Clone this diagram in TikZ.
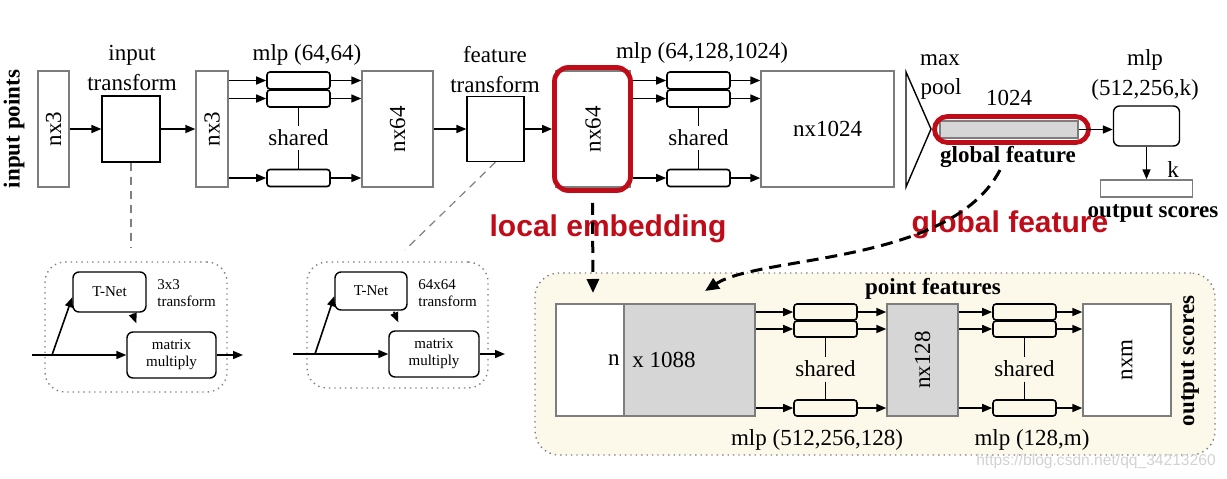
\documentclass[tikz,border=0pt]{standalone}
\usepackage{graphicx}
\usepackage{fontspec}
\setmainfont{Liberation Serif}
\newfontfamily\redfont{Liberation Sans}
\usetikzlibrary{arrows.meta,calc}
\definecolor{embred}{RGB}{192,12,24}
\definecolor{panelbg}{RGB}{252,248,234}
\definecolor{boxgray}{RGB}{214,214,214}
\definecolor{edgegray}{RGB}{125,125,125}

\begin{document}
\begin{tikzpicture}[x=0.5pt, y=-0.5pt, >={Triangle[length=5pt,width=4pt]},
    layer/.style ={draw=edgegray, line width=0.7pt, inner sep=0pt, font=\fontsize{11.5}{15}\selectfont},
    tbox/.style ={draw, line width=0.6pt, inner sep=0pt},
    unit/.style ={draw, rounded corners=1.5pt, line width=0.8pt, inner sep=0pt, minimum width=31.5pt, minimum height=8.5pt},
    small/.style ={draw, rounded corners=3pt, line width=0.7pt, inner sep=0pt, align=center, font=\fontsize{7.5}{8.5}\selectfont},
    lbl/.style ={inner sep=0pt, align=center, font=\fontsize{11.5}{15}\selectfont},
    blbl/.style ={inner sep=0pt, font=\fontsize{11.5}{15}\selectfont\bfseries},
    note/.style ={inner sep=0pt, align=left, font=\fontsize{7.5}{8.5}\selectfont},
    redlbl/.style ={inner sep=0pt, text=embred, font=\redfont\bfseries\fontsize{15}{18}\selectfont},
    ringbox/.style ={draw=embred, line width=2.4pt},
    group/.style ={draw=gray, dotted, line width=0.7pt, rounded corners=10pt},
    flow/.style ={line width=0.8pt, ->},
    link/.style ={line width=0.8pt},
    hint/.style ={draw=gray, line width=0.6pt, dash pattern=on 4pt off 3pt},
    jump/.style ={line width=1.5pt, dash pattern=on 6pt off 3.5pt, -{Triangle[length=7pt,width=6pt]}}]
   \useasboundingbox (0,0) rectangle (1227,478);

   % top row
   \node[blbl, rotate=90] (pts) at (14,129) {input points};
   \node[layer, minimum width=15.5pt, minimum height=58pt] (nxa) at (53.5,129) {\rotatebox{90}{nx3}};
   \node[lbl] (itlab) at (132,68) {input\\transform};
   \node[tbox, minimum width=29pt, minimum height=33pt] (itbox) at (131,129) {};
   \node[layer, minimum width=16pt, minimum height=58pt] (nxb) at (212,129) {\rotatebox{90}{nx3}};
   \node[lbl] (mlpa) at (307,55) {mlp (64,64)};
   \node[unit] (ua1) at (298.5,80.5) {};
   \node[unit] (ua2) at (298.5,98.5) {};
   \node[unit] (ua3) at (298.5,178) {};
   \node[lbl, inner sep=2pt] (sha) at (298.5,138) {shared};
   \node[layer, minimum width=35.5pt, minimum height=58pt] (nxc) at (397.5,129) {\rotatebox{90}{nx64}};
   \node[lbl] (ftlab) at (495,70) {feature\\transform};
   \node[tbox, minimum width=28.5pt, minimum height=32.5pt] (ftbox) at (495.5,129) {};
   \node[layer, minimum width=37pt, minimum height=58pt] (nxd) at (593,129) {\rotatebox{90}{nx64}};
   \node[ringbox, rounded corners=7pt, minimum width=38pt, minimum height=61.5pt] (ring1) at (592.5,129) {};
   \node[lbl] (mlpb) at (702,53) {mlp (64,128,1024)};
   \node[unit] (ub1) at (698.5,80.5) {};
   \node[unit] (ub2) at (698.5,98.5) {};
   \node[unit] (ub3) at (698.5,178) {};
   \node[lbl, inner sep=2pt] (shb) at (698.5,138) {shared};
   \node[layer, minimum width=66.5pt, minimum height=58pt] (nxe) at (827.5,129) {nx1024};
   \draw[line width=0.7pt] (906,72) -- (931,129) -- (906,187) -- cycle;
   \node[lbl] (maxl) at (940,60) {max};
   \node[lbl] (pooll) at (941,89) {pool};
   \node[lbl] (gdim) at (1009,98) {1024};
   \node[layer, fill=boxgray, minimum width=69pt, minimum height=8.5pt] (gbar) at (1009,129.5) {};
   \node[ringbox, rounded corners=6.5pt, minimum width=77pt, minimum height=13pt] (ring2) at (1011.5,129.5) {};
   \node[blbl] (gflab) at (1008,157) {global feature};
   \node[lbl] (mlpc) at (1145,75) {mlp\\(512,256,k)};
   \node[small, minimum width=33pt, minimum height=20pt] (mlpk) at (1146.5,126) {};
   \node[lbl] (klab) at (1173,170) {k};
   \node[layer, minimum width=46pt, minimum height=8.5pt] (outb) at (1146.5,188.5) {};
   \node[blbl] (oslab) at (1153,213) {output scores};

   \draw[flow] (nxa) -- (itbox);
   \draw[flow] (itbox) -- (nxb);
   \draw[flow] (nxb.east |- ua1) -- (ua1);
   \draw[flow] (nxb.east |- ua2) -- (ua2);
   \draw[flow] (nxb.east |- ua3) -- (ua3);
   \draw[flow] (ua1) -- (nxc.west |- ua1);
   \draw[flow] (ua2) -- (nxc.west |- ua2);
   \draw[flow] (ua3) -- (nxc.west |- ua3);
   \draw[link] (ua2) -- (sha) -- (ua3);
   \draw[flow] (nxc) -- (ftbox);
   \draw[flow] (ftbox) -- (ring1);
   \draw[flow] (ring1.east |- ub1) -- (ub1);
   \draw[flow] (ring1.east |- ub2) -- (ub2);
   \draw[flow] (ring1.east |- ub3) -- (ub3);
   \draw[flow] (ub1) -- (nxe.west |- ub1);
   \draw[flow] (ub2) -- (nxe.west |- ub2);
   \draw[flow] (ub3) -- (nxe.west |- ub3);
   \draw[link] (ub2) -- (shb) -- (ub3);
   \draw[flow] (gbar.east) -- (mlpk.west |- gbar.east);
   \draw[flow] (mlpk) -- (outb);

   % transform nets
   \node[group, minimum width=91pt, minimum height=65pt] (tp1) at (136,327) {};
   \node[small, minimum width=36.5pt, minimum height=20pt] (tnet1) at (109.5,292) {T-Net};
   \node[note, anchor=west] (tf1) at (157,293) {3x3\\transform};
   \node[small, minimum width=44.5pt, minimum height=23pt] (mm1) at (171.5,355) {matrix\\multiply};
   \coordinate (in1) at (32,355);
   \coordinate (br1) at (52,355);
   \coordinate (out1) at (243,355);
   \coordinate (it1) at (131,248);
   \draw[flow] (in1) -- (mm1.west);
   \draw[flow] (br1) -- (tnet1.188);
   \draw[flow] (mm1.east) -- (out1);
   \draw[flow] ($(tnet1.south east)+(-14,1)$) -- ($(mm1.north west)+(10,-8)$);
   \draw[hint] (itbox.south) -- (it1);

   \node[group, minimum width=90.5pt, minimum height=63pt] (tp2) at (397.5,325) {};
   \node[small, minimum width=36pt, minimum height=19pt] (tnet2) at (371,291) {T-Net};
   \node[note, anchor=west] (tf2) at (418,293) {64x64\\transform};
   \node[small, minimum width=45pt, minimum height=23pt] (mm2) at (434,354) {matrix\\multiply};
   \coordinate (in2) at (293,354);
   \coordinate (br2) at (315,354);
   \coordinate (out2) at (505,354);
   \coordinate (ft1) at (405,250);
   \draw[flow] (in2) -- (mm2.west);
   \draw[flow] (br2) -- (tnet2.188);
   \draw[flow] (mm2.east) -- (out2);
   \draw[flow] ($(tnet2.south east)+(-14,1)$) -- ($(mm2.north west)+(10,-8)$);
   \draw[hint] (ftbox.south) -- (ft1);

   % segmentation network
   \node[group, fill=panelbg, rounded corners=12pt, minimum width=340pt, minimum height=91pt] (seg) at (875,364) {};
   \node[layer, fill=white, minimum width=34pt, minimum height=56pt] (catw) at (590,360) {};
   \node[layer, fill=boxgray, minimum width=65.5pt, minimum height=56pt] (catg) at (689.5,360) {};
   \node[lbl, anchor=east] (nlab) at (620,360) {n};
   \node[lbl, anchor=west] (dlab) at (632,360) {x 1088};
   \node[unit, minimum height=8pt] (uc1) at (825.5,312) {};
   \node[unit, minimum height=8pt] (uc2) at (825.5,329) {};
   \node[unit, minimum height=8pt] (uc3) at (825.5,408) {};
   \node[lbl, inner sep=2pt] (shc) at (825.5,369) {shared};
   \node[lbl] (mlpd) at (817,440) {mlp (512,256,128)};
   \node[layer, fill=boxgray, minimum width=35.5pt, minimum height=56pt] (nxf) at (922.5,360) {\rotatebox{90}{nx128}};
   \node[blbl] (pflab) at (933,289) {point features};
   \node[unit, minimum height=8pt] (ud1) at (1024.5,312) {};
   \node[unit, minimum height=8pt] (ud2) at (1024.5,329) {};
   \node[unit, minimum height=8pt] (ud3) at (1024.5,408) {};
   \node[lbl, inner sep=2pt] (shd) at (1024.5,369) {shared};
   \node[lbl] (mlpe) at (1032,440) {mlp (128,m)};
   \node[layer, fill=white, minimum width=44pt, minimum height=56pt] (nxg) at (1127,360) {\rotatebox{90}{nxm}};
   \node[blbl, rotate=90] (oslab2) at (1190,361) {output scores};
   \node[inner sep=0pt, text=gray!35, font=\redfont\fontsize{7.8}{9}\selectfont] (wm) at (1096,461) {https://blog.csdn.net/qq\_34213260};

   \draw[flow] (catg.east |- uc1) -- (uc1);
   \draw[flow] (catg.east |- uc2) -- (uc2);
   \draw[flow] (catg.east |- uc3) -- (uc3);
   \draw[flow] (uc1) -- (nxf.west |- uc1);
   \draw[flow] (uc2) -- (nxf.west |- uc2);
   \draw[flow] (uc3) -- (nxf.west |- uc3);
   \draw[link] (uc2) -- (shc) -- (uc3);
   \draw[flow] (nxf.east |- ud1) -- (ud1);
   \draw[flow] (nxf.east |- ud2) -- (ud2);
   \draw[flow] (nxf.east |- ud3) -- (ud3);
   \draw[flow] (ud1) -- (nxg.west |- ud1);
   \draw[flow] (ud2) -- (nxg.west |- ud2);
   \draw[flow] (ud3) -- (nxg.west |- ud3);
   \draw[link] (ud2) -- (shd) -- (ud3);

   % highlighted features
   \node[redlbl] (loc) at (608,229) {local embedding};
   \node[redlbl] (glob) at (1010,225) {global feature};
   \coordinate (dropa) at (593,293);
   \coordinate (dropb) at (705,291);
   \draw[jump] ($(ring1.south)+(0,10)$) -- (dropa);
   \draw[jump] ($(gflab.south)+(-8,2)$) .. controls (950,265) and (760,255) .. (dropb);
\end{tikzpicture}
\end{document}
